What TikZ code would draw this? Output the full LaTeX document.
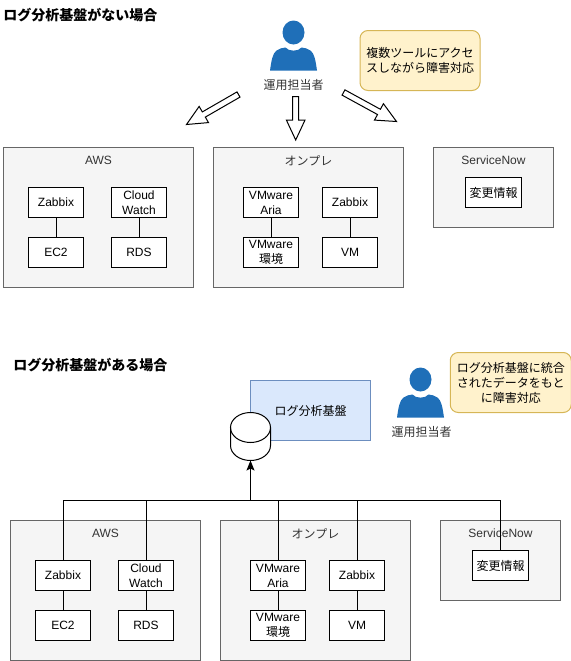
\documentclass[tikz,border=0pt]{standalone}
\usepackage{fontspec}
\setmainfont{Liberation Sans}
\newfontfamily\cjk{Noto Sans CJK JP}
\usetikzlibrary{calc,arrows.meta}
\definecolor{contfill}{HTML}{F5F5F5}
\definecolor{contline}{HTML}{666666}
\definecolor{contttext}{HTML}{333333}
\definecolor{notefill}{HTML}{FFF2CC}
\definecolor{noteline}{HTML}{D6B656}
\definecolor{logfill}{HTML}{DAE8FC}
\definecolor{logline}{HTML}{6C8EBF}
\definecolor{personblue}{HTML}{1F6FB8}
\tikzset{
  x=0.75pt,y=-0.75pt,
  every node/.style={font=\fontsize{9}{11.25}\selectfont,align=center,inner sep=0pt,outer sep=0pt},
  cont/.style={draw=contline,fill=contfill,line width=.75pt},
  contlabel/.style={text=contttext},
  inbox/.style={draw=black,fill=white,line width=.75pt,minimum width=41.25pt,minimum height=22.5pt},
  notebox/.style={draw=noteline,fill=notefill,line width=.75pt,rounded corners=6pt},
  title/.style={font=\fontsize{10.5}{12}\selectfont\bfseries\cjk,anchor=west},
  wire/.style={draw=black,line width=.75pt},
  stub/.style={draw=black,line width=.75pt},
  personlabel/.style={font=\fontsize{9}{11.25}\selectfont\cjk,text=contttext},
  person/.pic={
    \fill[personblue] (0,-14) ellipse [x radius=8.25pt,y radius=9pt];
    \fill[personblue] (-23.5,24) .. controls (-22,14) and (-21,7) .. (-17,4)
      .. controls (-14,2) and (-11,1.2) .. (-8,1)
      .. controls (-5,5.2) and (5,5.2) .. (8,1)
      .. controls (11,1.2) and (14,2) .. (17,4)
      .. controls (21,7) and (22,14) .. (23.5,24) -- cycle;
  }
}
\newcommand{\blockarrow}[2]{%
  \coordinate (hb) at ($(#2)!15pt!(#1)$);
  \draw[line width=.75pt,fill=white,line join=miter]
    ($(#1)!2.25pt!90:(#2)$) -- ($(hb)!2.25pt!-90:(#1)$) -- ($(hb)!7pt!-90:(#1)$) -- (#2)
    -- ($(hb)!7pt!90:(#1)$) -- ($(hb)!2.25pt!90:(#1)$) -- ($(#1)!2.25pt!-90:(#2)$) -- cycle;
}
\begin{document}
\begin{tikzpicture}
\useasboundingbox (0,0) rectangle (571,661);
\begin{scope}[shift={(0.5,0.5)}]

% ---------- upper half
\node[title] (t1) at (3,15) {ログ分析基盤がない場合};
\pic at (293,46) {person};
\node[personlabel] (p1) at (293,84.5) {運用担当者};
\node[notebox,minimum width=90pt,minimum height=45pt] (n1) at (419.5,60) {\cjk 複数ツールにアクセ\\\cjk スしながら障害対応};

\coordinate (a1s) at (238,94);
\coordinate (a1e) at (186,124);
\coordinate (a2s) at (295.2,96);
\coordinate (a2e) at (295.2,139.5);
\coordinate (a3s) at (343,92);
\coordinate (a3e) at (396,121);
\blockarrow{a1s}{a1e}
\blockarrow{a2s}{a2e}
\blockarrow{a3s}{a3e}

\node[cont,minimum width=142.5pt,minimum height=105pt] (aws1) at (98,217) {};
\node[contlabel] (aws1l) at (98,160) {AWS};
\node[cont,minimum width=142.5pt,minimum height=105pt] (op1) at (308,217) {};
\node[contlabel] (op1l) at (308,160) {\cjk オンプレ};
\node[cont,minimum width=90pt,minimum height=60pt] (sn1) at (493,187) {};
\node[contlabel] (sn1l) at (493,160) {ServiceNow};

\node[inbox] (z1) at (55.5,202) {Zabbix};
\node[inbox] (c1) at (138.5,202) {Cloud\\Watch};
\node[inbox] (e1) at (55.5,252) {EC2};
\node[inbox] (r1) at (138.5,252) {RDS};
\node[inbox] (va1) at (270.5,202) {VMware\\Aria};
\node[inbox] (ve1) at (270.5,252) {VMware\\{\cjk 環境}};
\node[inbox] (zo1) at (349.5,202) {Zabbix};
\node[inbox] (vm1) at (349.5,252) {VM};
\node[inbox,minimum width=42pt] (ch1) at (493,192) {\cjk 変更情報};
\foreach \p/\q in {z1/e1,c1/r1,va1/ve1,zo1/vm1} \draw[stub] (\p) -- (\q);

% ---------- lower half
\node[title] (t2) at (13,365) {ログ分析基盤がある場合};
\node[draw=logline,fill=logfill,line width=.75pt,minimum width=90pt,minimum height=45pt] (log) at (310,410) {\cjk ログ分析基盤};
\fill[white] (230,427) arc[start angle=180,end angle=0,x radius=15pt,y radius=11.25pt] -- (270,445) arc[start angle=0,end angle=-180,x radius=15pt,y radius=11.25pt] -- cycle;
\draw[line width=.75pt] (250,427) ellipse [x radius=15pt,y radius=11.25pt];
\draw[line width=.75pt] (230,427) -- (230,445) arc[start angle=180,end angle=360,x radius=15pt,y radius=11.25pt] -- (270,427);
\coordinate (db) at (250,460);
\pic at (420,393) {person};
\node[personlabel] (p2) at (421,431.5) {運用担当者};
\node[notebox,minimum width=90.75pt,minimum height=45pt] (n2) at (510.25,382) {\cjk ログ分析基盤に統合\\\cjk されたデータをもと\\\cjk に障害対応};

\node[cont,minimum width=142.5pt,minimum height=105pt] (aws2) at (105,590) {};
\node[contlabel] (aws2l) at (105,533) {AWS};
\node[cont,minimum width=142.5pt,minimum height=105pt] (op2) at (315,590) {};
\node[contlabel] (op2l) at (315,533) {\cjk オンプレ};
\node[cont,minimum width=90pt,minimum height=60pt] (sn2) at (500,560) {};
\node[contlabel] (sn2l) at (500,533) {ServiceNow};

\node[inbox] (z2) at (62.5,575) {Zabbix};
\node[inbox] (c2) at (145.5,575) {Cloud\\Watch};
\node[inbox] (e2) at (62.5,625) {EC2};
\node[inbox] (r2) at (145.5,625) {RDS};
\node[inbox] (va2) at (277.5,575) {VMware\\Aria};
\node[inbox] (ve2) at (277.5,625) {VMware\\{\cjk 環境}};
\node[inbox] (zo2) at (356.5,575) {Zabbix};
\node[inbox] (vm2) at (356.5,625) {VM};
\node[inbox,minimum width=42pt] (ch2) at (500,565) {\cjk 変更情報};
\foreach \p/\q in {z2/e2,c2/r2,va2/ve2,zo2/vm2} \draw[stub] (\p) -- (\q);

\coordinate (bus) at (250,500);
\foreach \p in {z2,c2,va2,zo2,ch2} \draw[wire] (\p.north) |- (bus);
\draw[wire,-{Stealth[length=7.5pt,width=6pt,inset=1.5pt]}] (bus) -- (db);
\end{scope}
\end{tikzpicture}
\end{document}
